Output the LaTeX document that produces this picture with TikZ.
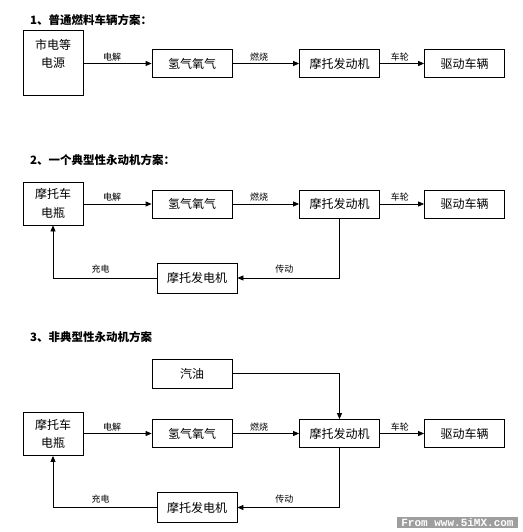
\documentclass[tikz,border=0pt]{standalone}
\usepackage{fontspec}
\newfontfamily\cjk{Noto Sans CJK SC}
\newfontfamily\wmfont{Liberation Mono}
\usetikzlibrary{arrows.meta}

\begin{document}
\begin{tikzpicture}[x=1pt, y=-1pt,
    box/.style={draw, line width=0.8pt, minimum width=80pt, minimum height=28pt, inner sep=0pt,
                align=center, font=\cjk\fontsize{12}{18.5}\selectfont},
    bat/.style={box, minimum width=60pt, minimum height=43pt},
    arr/.style={-{Triangle[length=6pt, width=5pt]}, line width=0.8pt},
    lbl/.style={font=\cjk\fontsize{9}{10}\selectfont, inner sep=2pt},
    ttl/.style={anchor=west, inner sep=0pt, font=\cjk\bfseries\fontsize{11.5}{12}\selectfont}]
        \useasboundingbox (0, 0) rectangle (522, 532);

        % Titres
        \node [ttl] (t1) at (30, 20) {1、普通燃料车辆方案：};
        \node [ttl] (t2) at (30, 160) {2、一个典型性永动机方案：};
        \node [ttl] (t3) at (30, 337) {3、非典型性永动机方案};

        % Sources
        \node [bat, minimum height=65pt] (src1) at (53, 62.5) {市电等\\电源\\~};
        \node [bat] (src2) at (53, 203.5) {摩托车\\电瓶};
        \node [bat] (src3) at (53, 434) {摩托车\\电瓶};
        \node [box, minimum height=29pt] (oil3) at (192, 373.5) {汽油};

        % Lignes principales
        \foreach \i/\y in {1/63.5, 2/204, 3/433.5} {
            \node [box] (h\i) at (192, \y) {氢气氧气};
            \node [box] (eng\i) at (339.5, \y) {摩托发动机};
            \node [box] (car\i) at (464.5, \y) {驱动车辆};
            \draw [arr] (src\i.east |- h\i.west) -- (h\i.west) node [lbl, pos=0.42, above] {电解};
            \draw [arr] (h\i) -- (eng\i) node [lbl, pos=0.4, above] {燃烧};
            \draw [arr] (eng\i) -- (car\i) node [lbl, pos=0.45, above] {车轮};
        }

        % Boucles de recharge
        \node [box, minimum height=30pt] (gen2) at (197, 278) {摩托发电机};
        \node [box, minimum height=30pt] (gen3) at (197, 507.5) {摩托发电机};
        \foreach \i in {2, 3} {
            \draw [arr] (eng\i.south) |- (gen\i.east) node [lbl, pos=0.77, above, yshift=2pt] {传动};
            \draw [arr] (gen\i.west) -| (src\i.south) node [lbl, pos=0.27, above, yshift=2pt] {充电};
        }
        \draw [arr] (oil3.east) -| (eng3.north);

        % Filigrane
        \node [fill=black!38, text=white, inner sep=0pt, minimum width=121pt, minimum height=11pt,
               font=\wmfont\bfseries\fontsize{11}{11}\selectfont] (wm) at (457.5, 522.5) {From www.5iMX.com};
    \end{tikzpicture}
\end{document}
